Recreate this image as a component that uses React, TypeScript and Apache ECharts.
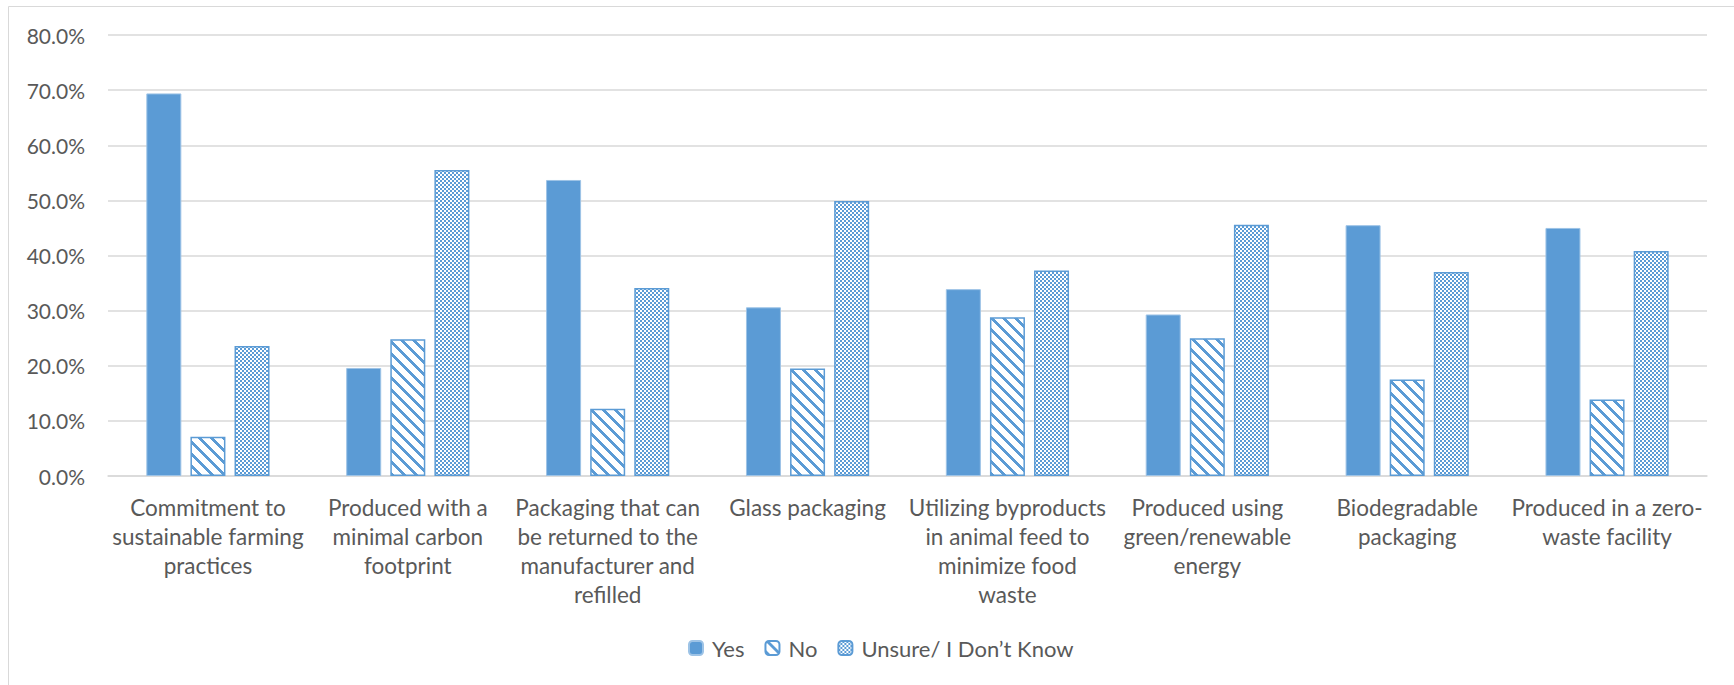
import React, { useEffect, useRef } from "react";
import * as echarts from "echarts";

const categories = [
  "Commitment to\nsustainable farming\npractices",
  "Produced with a\nminimal carbon\nfootprint",
  "Packaging that can\nbe returned to the\nmanufacturer and\nrefilled",
  "Glass packaging",
  "Utilizing byproducts\nin animal feed to\nminimize food\nwaste",
  "Produced using\ngreen/renewable\nenergy",
  "Biodegradable\npackaging",
  "Produced in a zero-\nwaste facility",
];

const yesValues = [69.4, 19.6, 53.7, 30.6, 33.9, 29.3, 45.5, 45.0];
const noValues = [7.1, 24.8, 12.2, 19.5, 28.8, 25.0, 17.5, 13.9];
const unsureValues = [23.6, 55.5, 34.1, 49.9, 37.3, 45.6, 37.0, 40.8];

const seriesNames = ["Yes", "No", "Unsure/ I Don\u2019t Know"];

const BLUE = "#5b9bd5";
const TEXT = "#595959";
const GRID = "#d9d9d9";
const FONT = "Lato";

// Build a small pixel tile and return it as an image pattern.
function makeTile(size: number, isBlue: (x: number, y: number) => boolean) {
  const canvas = document.createElement("canvas");
  canvas.width = size;
  canvas.height = size;
  const ctx = canvas.getContext("2d")!;
  const img = ctx.createImageData(size, size);
  for (let y = 0; y < size; y++) {
    for (let x = 0; x < size; x++) {
      const i = (y * size + x) * 4;
      const b = isBlue(x, y);
      img.data[i] = b ? 0x5b : 255;
      img.data[i + 1] = b ? 0x9b : 255;
      img.data[i + 2] = b ? 0xd5 : 255;
      img.data[i + 3] = 255;
    }
  }
  ctx.putImageData(img, 0, 0);
  return {
    image: canvas.toDataURL(),
    imageWidth: size,
    imageHeight: size,
    repeat: "repeat",
  } as any;
}

export default function App() {
  const ref = useRef<HTMLDivElement>(null);

  useEffect(() => {
    if (!ref.current) return;
    const chart = echarts.init(ref.current, null, { renderer: "svg" });

    // downward diagonal stripes
    const stripes = makeTile(12, (x, y) => (((x - y) % 12) + 12) % 12 < 4);
    // fine checkerboard
    const checker = makeTile(4, (x, y) => (Math.floor(x / 2) + Math.floor(y / 2)) % 2 === 0);

    chart.setOption({
      animation: false,
      backgroundColor: "#ffffff",
      textStyle: { fontFamily: FONT },
      graphic: [
        {
          type: "rect",
          shape: { x: 8.5, y: 6.5, width: 1800, height: 800 },
          style: { fill: "none", stroke: "#d9d9d9", lineWidth: 1 },
          silent: true,
        },
      ],
      grid: { left: 108, right: 27, top: 35, bottom: 209, containLabel: false },
      legend: {
        left: 683,
        top: 632,
        itemWidth: 14,
        itemHeight: 14,
        itemGap: 20,
        textStyle: { fontFamily: FONT, fontSize: 22, color: TEXT, padding: [0, 0, 0, 4] },
        data: seriesNames,
      },
      xAxis: {
        type: "category",
        data: categories,
        axisLine: { show: true, lineStyle: { color: GRID, width: 1.5 } },
        axisTick: { show: false },
        axisLabel: {
          interval: 0,
          margin: 17,
          color: TEXT,
          fontFamily: FONT,
          fontSize: 22.5,
          lineHeight: 29,
          align: "center",
        },
      },
      yAxis: {
        type: "value",
        min: 0,
        max: 80,
        interval: 10,
        axisLine: { show: false },
        axisTick: { show: false },
        splitLine: { lineStyle: { color: GRID, width: 1.5 } },
        axisLabel: {
          margin: 23,
          color: TEXT,
          fontFamily: FONT,
          fontSize: 21,
          formatter: (v: number) => v.toFixed(1) + "%",
        },
      },
      series: [
        {
          name: seriesNames[0],
          type: "bar",
          data: yesValues,
          barWidth: 35,
          barGap: "26%",
          itemStyle: { color: BLUE, borderColor: "#9dc3e6", borderWidth: 1 },
        },
        {
          name: seriesNames[1],
          type: "bar",
          data: noValues,
          barWidth: 35,
          barGap: "26%",
          itemStyle: { color: stripes, borderColor: BLUE, borderWidth: 1.5 },
        },
        {
          name: seriesNames[2],
          type: "bar",
          data: unsureValues,
          barWidth: 35,
          barGap: "26%",
          itemStyle: { color: checker, borderColor: BLUE, borderWidth: 1.5 },
        },
      ],
    });

    return () => chart.dispose();
  }, []);

  return (
    <div
      ref={ref}
      style={{ position: "absolute", left: 0, top: 0, width: 1734, height: 685 }}
    />
  );
}
